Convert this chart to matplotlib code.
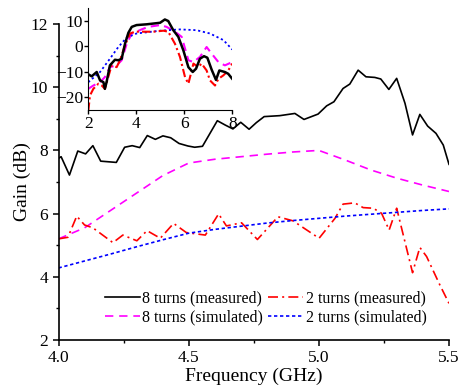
import matplotlib
matplotlib.use("Agg")
import matplotlib.pyplot as plt
from matplotlib.ticker import MultipleLocator

plt.rcParams['font.family'] = ['Liberation Serif', 'DejaVu Serif']
plt.rcParams['mathtext.fontset'] = 'stix'

# --- main plot data (4-5.5 GHz) ---
f8_meas = [4.0, 4.010, 4.042, 4.074, 4.104, 4.132, 4.162, 4.222, 4.254, 4.283, 4.312,
           4.341, 4.372, 4.401, 4.431, 4.463, 4.497, 4.523, 4.553, 4.610, 4.641, 4.670,
           4.700, 4.732, 4.760, 4.790, 4.850, 4.908, 4.943, 4.997, 5.030, 5.058, 5.093,
           5.119, 5.151, 5.181, 5.215, 5.238, 5.269, 5.299, 5.331, 5.360, 5.388, 5.418,
           5.450, 5.478, 5.500]
g8_meas = [7.75, 7.80, 7.22, 7.98, 7.89, 8.15, 7.66, 7.62, 8.10, 8.15, 8.09,
           8.47, 8.35, 8.46, 8.40, 8.22, 8.14, 8.10, 8.13, 8.94, 8.80, 8.68,
           8.89, 8.67, 8.88, 9.07, 9.10, 9.17, 8.98, 9.15, 9.41, 9.54, 9.96,
           10.10, 10.54, 10.33, 10.31, 10.26, 9.93, 10.28, 9.49, 8.49, 9.14, 8.77,
           8.54, 8.17, 7.56]

f2_meas = [4.0, 4.036, 4.070, 4.100, 4.132, 4.209, 4.247, 4.301, 4.340, 4.391, 4.442,
           4.491, 4.564, 4.615, 4.645, 4.703, 4.764, 4.843, 4.901, 5.001, 5.062, 5.093,
           5.138, 5.170, 5.209, 5.241, 5.270, 5.299, 5.360, 5.388, 5.414, 5.465, 5.500]
g2_meas = [5.20, 5.25, 5.92, 5.64, 5.55, 5.08, 5.32, 5.14, 5.46, 5.22, 5.69,
           5.40, 5.32, 5.99, 5.61, 5.71, 5.18, 5.90, 5.77, 5.22, 5.85, 6.30,
           6.34, 6.19, 6.17, 6.01, 5.48, 6.17, 4.13, 4.93, 4.64, 3.74, 3.16]

f_sim = [4.0, 4.1, 4.2, 4.3, 4.4, 4.5, 4.6, 4.7, 4.8, 4.9, 5.0, 5.1, 5.2, 5.3, 5.4, 5.5]
g8_sim = [5.20, 5.55, 6.10, 6.65, 7.20, 7.60, 7.72, 7.80, 7.88, 7.95, 8.00,
          7.70, 7.38, 7.12, 6.90, 6.70]
g2_sim = [4.28, 4.50, 4.72, 4.95, 5.17, 5.38, 5.50, 5.60, 5.70, 5.78, 5.85,
          5.92, 5.98, 6.04, 6.10, 6.15]

# --- inset data (2-8 GHz) ---
fi8_meas = [2.0, 2.14, 2.35, 2.49, 2.63, 2.69, 2.76, 2.9, 3.11, 3.25, 3.39, 3.53, 3.67,
            3.81, 4.01, 4.43, 4.71, 4.99, 5.19, 5.33, 5.54, 5.75, 5.96, 6.17, 6.35,
            6.49, 6.65, 6.82, 6.96, 7.14, 7.32, 7.46, 7.69, 7.83, 8.0]
gi8_meas = [-11.0, -11.8, -10.1, -13.4, -14.1, -16.7, -14.1, -7.5, -5.3, -5.5, -4.9, 1.0, 5.3,
            7.6, 8.3, 8.6, 8.9, 9.2, 10.5, 9.9, 6.3, 3.7, -1.6, -8.2, -10.1,
            -8.8, -4.9, -3.9, -4.5, -9.2, -13.2, -9.5, -10.1, -10.8, -12.8]

fi2_meas = [2.0, 2.07, 2.21, 2.42, 2.56, 2.69, 2.83, 2.97, 3.18, 3.32, 3.53, 3.74, 3.94,
            4.29, 4.71, 5.13, 5.33, 5.61, 5.82, 6.03, 6.17, 6.38, 6.58, 6.72, 6.93,
            7.07, 7.28, 7.42, 7.63, 7.83, 8.0]
gi2_meas = [-25.3, -19.3, -16.7, -14.7, -15.4, -16.7, -12.1, -7.5, -8.2, -5.5, 0.4, 5.0, 5.7,
            5.7, 5.7, 6.1, 5.7, 1.0, -4.2, -12.1, -14.7, -6.8, -8.2, -6.8, -9.5,
            -13.4, -15.4, -12.8, -11.4, -9.5, -6.8]

fi8_sim = [2.0, 2.21, 2.49, 2.69, 2.9, 3.18, 3.39, 3.6, 3.81, 4.01, 4.22, 4.5, 4.99,
           5.26, 5.61, 5.89, 6.17, 6.38, 6.65, 6.93, 7.14, 7.42, 7.69, 8.0]
gi8_sim = [-16.7, -15.4, -14.1, -12.1, -8.2, -7.5, -5.5, 1.0, 5.0, 5.7, 6.6, 7.6, 8.3,
           7.6, 5.7, 3.7, -5.5, -6.2, -4.2, -0.3, -2.9, -6.2, -7.5, -6.2]

fi2_sim = [2.0, 2.49, 2.9, 3.25, 3.6, 4.01, 4.99, 5.82, 6.51, 7.07, 7.63, 8.0]
gi2_sim = [-14.1, -10.1, -4.9, -0.3, 3.4, 5.0, 6.1, 6.6, 6.3, 5.0, 2.4, -1.3]

fig = plt.figure(figsize=(4.59, 3.92), dpi=100)
ax = fig.add_axes([0.1275, 0.1327, 0.8507, 0.806])

ax.plot(f8_meas, g8_meas, color='black', lw=1.2, label='8 turns (measured)')
ax.plot(f_sim, g8_sim, color='#ff00ff', lw=1.2, dashes=(5, 3.5), label='8 turns (simulated)')
ax.plot(f2_meas, g2_meas, color='red', lw=1.2, dashes=(6, 2.5, 1.2, 2.5), label='2 turns (measured)')
ax.plot(f_sim, g2_sim, color='blue', lw=1.2, dashes=(2, 1.6), label='2 turns (simulated)')

ax.set_xlim(4.0, 5.5)
ax.set_ylim(2, 12)
ax.xaxis.set_major_locator(MultipleLocator(0.5))
ax.xaxis.set_minor_locator(MultipleLocator(0.25))
ax.yaxis.set_major_locator(MultipleLocator(2))
ax.yaxis.set_minor_locator(MultipleLocator(1))
ax.xaxis.set_major_formatter(plt.FormatStrFormatter('%.1f'))
for s in ['top', 'right']:
    ax.spines[s].set_visible(False)
for s in ['left', 'bottom']:
    ax.spines[s].set_linewidth(1.2)
ax.tick_params(which='major', length=4, width=1.1, labelsize=12.5)
ax.tick_params(which='minor', length=2.5, width=1.0)
ax.set_xlabel('Frequency (GHz)', fontsize=14, labelpad=1)
ax.set_ylabel('Gain (dB)', fontsize=14, labelpad=0)

ax.legend(ncol=2, loc='lower left', bbox_to_anchor=(0.09, 0.01), frameon=False,
          fontsize=11.5, handlelength=2.2, handletextpad=0.15, columnspacing=0.3,
          labelspacing=0.2, borderpad=0.2)

# inset
ins = fig.add_axes([0.1924, 0.7194, 0.3137, 0.2602])
ins.plot(fi8_sim, gi8_sim, color='#ff00ff', lw=1.5, dashes=(4, 2.5))
ins.plot(fi2_sim, gi2_sim, color='blue', lw=1.3, dashes=(1.2, 1.5))
ins.plot(fi2_meas, gi2_meas, color='red', lw=1.5, dashes=(4, 1.5, 1, 1.5))
ins.plot(fi8_meas, gi8_meas, color='black', lw=1.8)
ins.set_xlim(2, 8)
ins.set_ylim(-25, 15)
ins.set_xticks([2, 4, 6, 8])
ins.set_yticks([-20, -10, 0, 10])
for s in ['top', 'right']:
    ins.spines[s].set_visible(False)
ins.tick_params(length=3, width=1.0, labelsize=12.5, pad=1)
ins.patch.set_alpha(0)

fig.savefig('out.png', dpi=100)
